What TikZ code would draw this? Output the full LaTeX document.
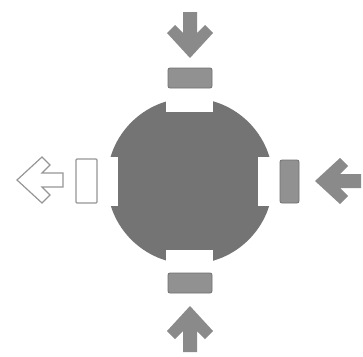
\documentclass[tikz,border=0pt]{standalone}
\definecolor{discgray}{RGB}{116,116,116}
\definecolor{arrowgray}{RGB}{138,138,138}
\definecolor{blockgray}{RGB}{145,145,145}
\definecolor{edgegray}{RGB}{112,112,112}
\definecolor{linegray}{RGB}{150,150,150}
\begin{document}
\begin{tikzpicture}[x=1pt,y=-1pt,
  solidarrow/.style={fill=arrowgray},
  hollowarrow/.style={draw=linegray,fill=white,line width=1.2pt,line join=miter},
  solidblock/.style={fill=blockgray,draw=edgegray,line width=0.8pt,rounded corners=2pt},
  hollowblock/.style={fill=white,draw=linegray,line width=1.2pt,rounded corners=1pt},
  notch/.style={fill=white},
  pics/fatarrow/.style={code={
    \path[#1] (0,0) -- (-23,-25) -- (-15,-33) -- (-7,-25) -- (-7,-46) -- (7,-46)
      -- (7,-25) -- (15,-33) -- (23,-25) -- cycle;}}]
\useasboundingbox (0,0) rectangle (363,356);
\fill[white] (0,0) rectangle (363,356);
% disc with four notches
\coordinate (c) at (190,181);
\fill[discgray] (c) circle[radius=83];
\fill[notch] (166,95) rectangle (213,112);
\fill[notch] (166,250) rectangle (213,267);
\fill[notch] (104,157) rectangle (118,206);
\fill[notch] (258,157) rectangle (276,206);
% blocks
\node[solidblock,minimum width=44pt,minimum height=20pt,inner sep=0pt] (topblock) at (190,78) {};
\node[solidblock,minimum width=44pt,minimum height=20pt,inner sep=0pt] (botblock) at (190,283) {};
\node[hollowblock,minimum width=21pt,minimum height=44pt,inner sep=0pt] (leftblock) at (86.5,181) {};
\node[solidblock,minimum width=19pt,minimum height=43pt,inner sep=0pt] (rightblock) at (289.5,181.5) {};
% arrows
\pic at (190,58) {fatarrow=solidarrow};
\pic[rotate=180] at (190,306) {fatarrow=solidarrow};
\pic[rotate=-90] at (315,181) {fatarrow=solidarrow};
\pic[rotate=-90] at (17,180) {fatarrow=hollowarrow};
\end{tikzpicture}
\end{document}
